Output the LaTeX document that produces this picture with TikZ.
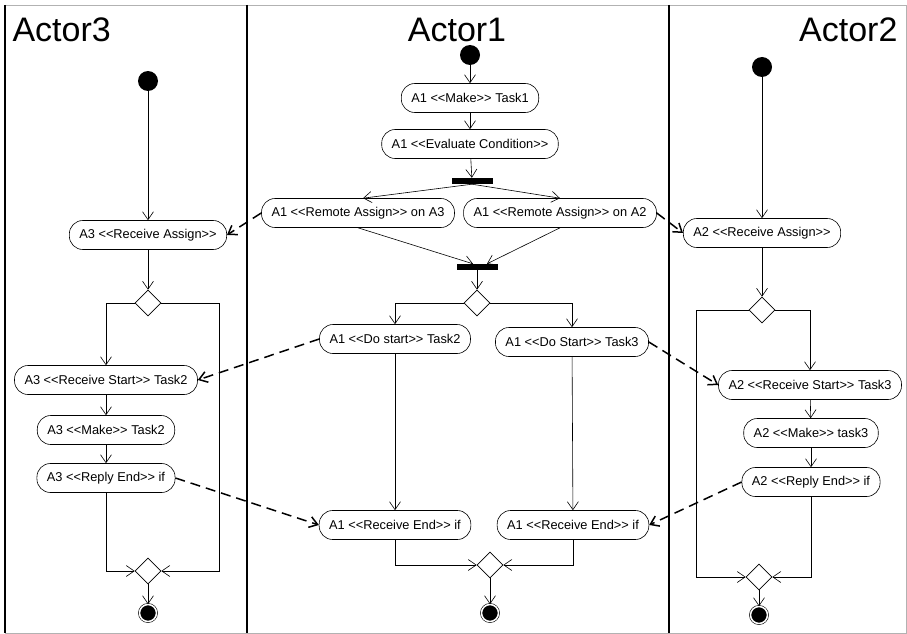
\documentclass[tikz,border=0pt]{standalone}
\usepackage{fontspec}
\setmainfont{Liberation Sans}[Ligatures=TeXOff]
\usetikzlibrary{arrows.meta,shapes.geometric}

\begin{document}
\begin{tikzpicture}[x=1pt, y=-1pt,
	>={Straight Barb[length=8pt,width=11pt]},
	action/.style={draw, line width=0.6pt, rounded corners=13.5pt, minimum height=29pt, inner xsep=10pt, inner ysep=0pt, font=\fontsize{12.8}{14}\selectfont},
	bar/.style={fill=black, minimum width=41pt, minimum height=6pt, inner sep=0pt},
	choice/.style={draw, line width=0.6pt, diamond, minimum size=26pt, inner sep=0pt},
	initial/.style={circle, fill=black, minimum size=20pt, inner sep=0pt},
	final/.style={circle, fill=black, draw=black, line width=0.6pt, minimum size=17pt, inner sep=0pt, double=white, double distance=1.5pt},
	flow/.style={->, line width=0.6pt},
	message/.style={->, line width=1.5pt, dash pattern=on 10pt off 6pt},
	lane/.style={font=\fontsize{34}{40}\selectfont}]
	\useasboundingbox (0,0) rectangle (907,634);

	% swimlanes
	\draw[gray!60, line width=0.8pt] (5,5) -- (906,5) -- (906,633) -- (5,633);
	\draw[line width=1.3pt] (5,5) -- (5,633);
	\draw[line width=1.3pt] (247,5) -- (247,633);
	\draw[line width=1.3pt] (669,5) -- (669,633);
	\node[lane, anchor=base west] (t3) at (9,42) {Actor3};
	\node[lane, anchor=base] (t1) at (457,42) {Actor1};
	\node[lane, anchor=base east] (t2) at (901,42) {Actor2};

	% Actor3
	\node[initial] (s3) at (148,81) {};
	\node[action] (ra3) at (148,235) {A3 <<Receive Assign>>};
	\node[choice] (d3) at (148,303) {};
	\node[action] (rs3) at (106,380) {A3 <<Receive Start>> Task2};
	\node[action] (mk3) at (106,430) {A3 <<Make>> Task2};
	\node[action] (re3) at (106,478) {A3 <<Reply End>> if};
	\node[choice] (m3) at (148,571) {};
	\node[final] (e3) at (148,613) {};

	% Actor1
	\node[initial] (s1) at (470,55) {};
	\node[action] (mk1) at (470,98) {A1 <<Make>> Task1};
	\node[action] (ev1) at (470,144) {A1 <<Evaluate Condition>>};
	\node[bar] (fork) at (472,181) {};
	\node[action] (ra13) at (358,213) {A1 <<Remote Assign>> on A3};
	\node[action] (ra12) at (560,213) {A1 <<Remote Assign>> on A2};
	\node[bar] (join) at (477,267) {};
	\node[choice] (d1) at (477,303) {};
	\node[action] (ds2) at (395,339) {A1 <<Do start>> Task2};
	\node[action] (ds3) at (572,342) {A1 <<Do Start>> Task3};
	\node[action] (rel) at (395,525) {A1 <<Receive End>> if};
	\node[action] (rer) at (573,525) {A1 <<Receive End>> if};
	\node[choice] (m1) at (490,565) {};
	\node[final] (e1) at (490,613) {};

	% Actor2
	\node[initial] (s2) at (762,67) {};
	\node[action] (ra2) at (762,233) {A2 <<Receive Assign>>};
	\node[choice] (d2) at (762,310) {};
	\node[action] (rs2) at (810,385) {A2 <<Receive Start>> Task3};
	\node[action] (mk2) at (811,433) {A2 <<Make>> task3};
	\node[action] (re2) at (811,482) {A2 <<Reply End>> if};
	\node[choice] (m2) at (759,577) {};
	\node[final] (e2) at (759,615) {};

	% control flow
	\draw[flow] (s3) -- (ra3);
	\draw[flow] (ra3) -- (d3);
	\draw[flow] (d3.west) -| (rs3.north);
	\draw[flow] (d3.east) -- ++(58,0) |- (m3.east);
	\draw[flow] (rs3) -- (mk3);
	\draw[flow] (mk3) -- (re3);
	\draw[flow] (re3.south) |- (m3.west);
	\draw[flow] (m3) -- (e3);

	\draw[flow] (s1) -- (mk1);
	\draw[flow] (mk1) -- (ev1);
	\draw[flow] (ev1) -- (fork);
	\draw[flow] (fork.south) -- ([xshift=5pt]ra13.north);
	\draw[flow] (fork.south) -- (ra12.north);
	\draw[flow] (ra13.south) -- ([xshift=-4pt]join.north);
	\draw[flow] (ra12.south) -- ([xshift=10pt]join.north);
	\draw[flow] (join) -- (d1);
	\draw[flow] (d1.west) -| (ds2.north);
	\draw[flow] (d1.east) -| (ds3.north);
	\draw[flow] (ds2) -- (rel);
	\draw[flow] (ds3) -- (rer);
	\draw[flow] (rel.south) |- (m1.west);
	\draw[flow] (rer.south) |- (m1.east);
	\draw[flow] (m1) -- (e1);

	\draw[flow] (s2) -- (ra2);
	\draw[flow] (ra2) -- (d2);
	\draw[flow] (d2.east) -| (rs2.north);
	\draw[flow] (d2.west) -- ++(-52,0) |- (m2.west);
	\draw[flow] (rs2) -- (mk2);
	\draw[flow] (mk2) -- (re2);
	\draw[flow] (re2.south) |- (m2.east);
	\draw[flow] (m2) -- (e2);

	% messages between actors
	\draw[message] (ra13.west) -- (ra3.east);
	\draw[message] (ra12.east) -- (ra2.west);
	\draw[message] (ds2.west) -- (rs3.east);
	\draw[message] (ds3.east) -- (rs2.west);
	\draw[message] (re3.east) -- (rel.west);
	\draw[message] (re2.west) -- (rer.east);
\end{tikzpicture}
\end{document}
